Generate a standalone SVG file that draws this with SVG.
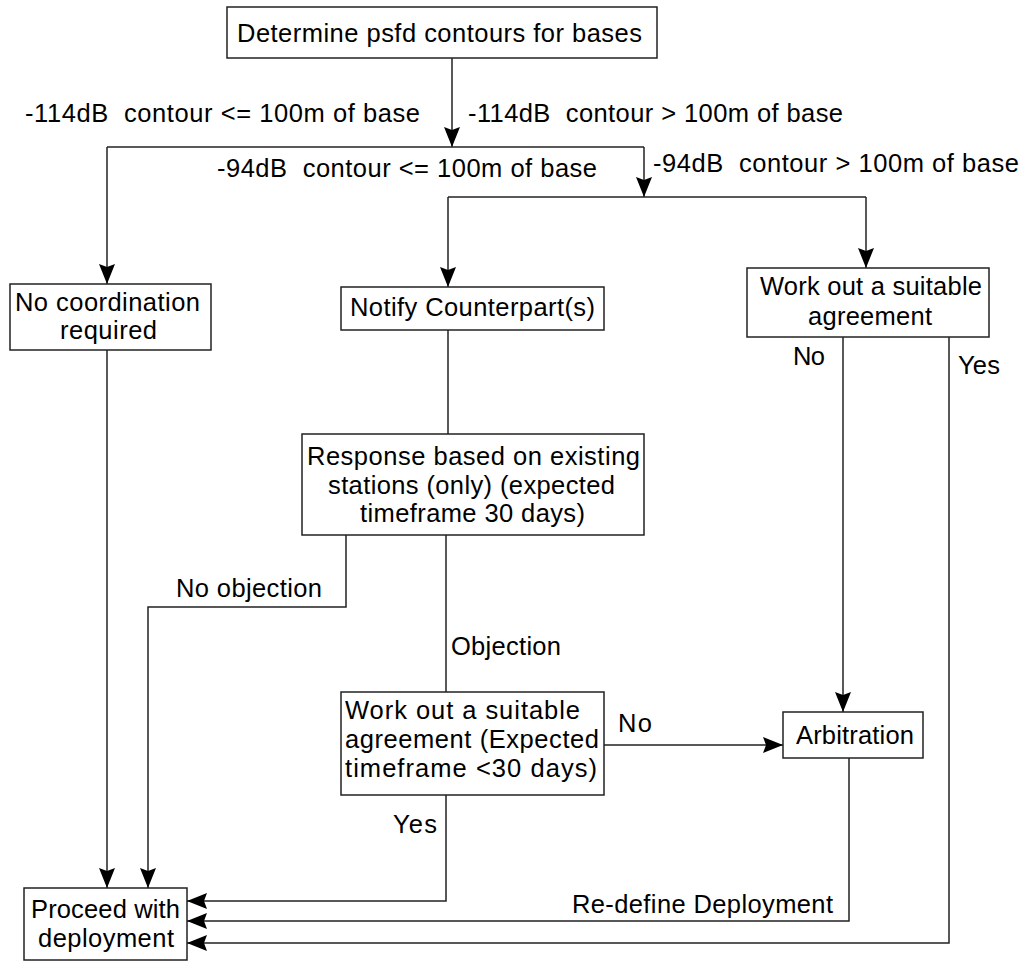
<svg xmlns="http://www.w3.org/2000/svg" width="1033" height="962" viewBox="0 0 1033 962">
  <style>
    .box { fill: #ffffff; stroke: #222222; stroke-width: 1.5; }
    .wire { fill: none; stroke: #222222; stroke-width: 1.5; }
    .arrowed { marker-end: url(#arrow); }
    text { font-family: "Liberation Sans", Arial, sans-serif; font-size: 25.5px; fill: #000000; }
  </style>
  <defs>
    <marker id="arrow" viewBox="0 0 20 18" refX="20" refY="9" markerWidth="20" markerHeight="18" markerUnits="userSpaceOnUse" orient="auto">
      <path d="M0,1 L20,9 L0,17 L3,9 Z" fill="#000000"/>
    </marker>
  </defs>
  <rect width="1033" height="962" fill="#ffffff"/>

  <!-- connectors -->
  <g id="connectors">
    <path class="wire arrowed" d="M452,58 V147"/>
    <path class="wire" d="M107,147 H644"/>
    <path class="wire arrowed" d="M107,147 V284"/>
    <path class="wire arrowed" d="M644,147 V197"/>
    <path class="wire" d="M448,197 H866"/>
    <path class="wire arrowed" d="M448,197 V287"/>
    <path class="wire arrowed" d="M866,197 V268"/>
    <path class="wire arrowed" d="M107,350 V888"/>
    <path class="wire" d="M448,330 V434"/>
    <path class="wire arrowed" d="M346,535 V607 H148 V888"/>
    <path class="wire" d="M446,535 V692"/>
    <path class="wire arrowed" d="M446,795 V901 H187"/>
    <path class="wire arrowed" d="M604,745 H783"/>
    <path class="wire arrowed" d="M843,337 V712"/>
    <path class="wire arrowed" d="M849,758 V921 H187"/>
    <path class="wire arrowed" d="M949,334 V943 H187"/>
  </g>

  <!-- connector labels -->
  <g id="labels">
    <text x="25" y="122" textLength="395" lengthAdjust="spacing">-114dB&#160; contour &lt;= 100m of base</text>
    <text x="468" y="122" textLength="375" lengthAdjust="spacing">-114dB&#160; contour &gt; 100m of base</text>
    <text x="217" y="177" textLength="380" lengthAdjust="spacing">-94dB&#160; contour &lt;= 100m of base</text>
    <text x="653" y="172" textLength="366" lengthAdjust="spacing">-94dB&#160; contour &gt; 100m of base</text>
    <text x="793" y="365" textLength="32" lengthAdjust="spacing">No</text>
    <text x="958" y="374" textLength="42" lengthAdjust="spacing">Yes</text>
    <text x="176" y="597" textLength="146" lengthAdjust="spacing">No objection</text>
    <text x="451" y="655" textLength="110" lengthAdjust="spacing">Objection</text>
    <text x="618" y="732" textLength="34" lengthAdjust="spacing">No</text>
    <text x="393" y="833" textLength="44" lengthAdjust="spacing">Yes</text>
    <text x="572" y="913" textLength="261" lengthAdjust="spacing">Re-define Deployment</text>
  </g>

  <g id="determine">
    <rect class="box" x="227" y="7" width="430" height="51"/>
    <text x="237" y="42" textLength="405" lengthAdjust="spacing">Determine psfd contours for bases</text>
  </g>

  <g id="no-coordination">
    <rect class="box" x="10" y="284" width="201" height="66"/>
    <text x="15" y="311" textLength="185" lengthAdjust="spacing">No coordination</text>
    <text x="60" y="339" textLength="97" lengthAdjust="spacing">required</text>
  </g>

  <g id="notify">
    <rect class="box" x="341" y="287" width="263" height="43"/>
    <text x="350" y="316" textLength="245" lengthAdjust="spacing">Notify Counterpart(s)</text>
  </g>

  <g id="agreement-top">
    <rect class="box" x="747" y="268" width="242" height="69"/>
    <text x="760" y="295" textLength="222" lengthAdjust="spacing">Work out a suitable</text>
    <text x="808" y="325" textLength="124" lengthAdjust="spacing">agreement</text>
  </g>

  <g id="response">
    <rect class="box" x="302" y="434" width="342" height="101"/>
    <text x="307" y="465" textLength="333" lengthAdjust="spacing">Response based on existing</text>
    <text x="328" y="494" textLength="287" lengthAdjust="spacing">stations (only) (expected</text>
    <text x="360" y="522" textLength="225" lengthAdjust="spacing">timeframe 30 days)</text>
  </g>

  <g id="agreement-timed">
    <rect class="box" x="341" y="692" width="263" height="103"/>
    <text x="345" y="719" textLength="235" lengthAdjust="spacing">Work out a suitable</text>
    <text x="345" y="748" textLength="254" lengthAdjust="spacing">agreement (Expected</text>
    <text x="345" y="777" textLength="252" lengthAdjust="spacing">timeframe &lt;30 days)</text>
  </g>

  <g id="arbitration">
    <rect class="box" x="783" y="712" width="140" height="46"/>
    <text x="796" y="744" textLength="118" lengthAdjust="spacing">Arbitration</text>
  </g>

  <g id="proceed">
    <rect class="box" x="24" y="888" width="163" height="72"/>
    <text x="31" y="918" textLength="149" lengthAdjust="spacing">Proceed with</text>
    <text x="38" y="947" textLength="136" lengthAdjust="spacing">deployment</text>
  </g>
</svg>
